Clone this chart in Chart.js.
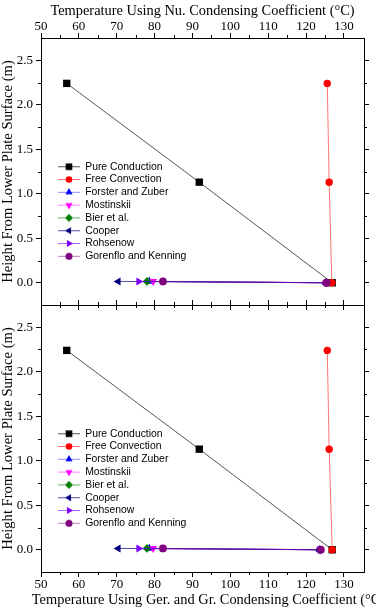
<!DOCTYPE html>
<html>
<head>
<meta charset="utf-8">
<script src="https://cdn.jsdelivr.net/npm/chart.js@4.4.1/dist/chart.umd.min.js"></script>
<style>
  html, body { margin: 0; padding: 0; background: #fff; }
  #wrap { position: relative; width: 376px; height: 612px; overflow: hidden; }
  canvas { position: absolute; left: 0; }
  #topChart { top: 0; }
  #bottomChart { top: 290px; }
</style>
</head>
<body>
<div id="wrap">
  <canvas id="topChart" width="376" height="320"></canvas>
  <canvas id="bottomChart" width="376" height="322"></canvas>
</div>
<script>
// series
const seriesNames = ["Pure Conduction", "Free Convection", "Forster and Zuber", "Mostinskii",
  "Bier et al.", "Cooper", "Rohsenow", "Gorenflo and Kenning"];
const seriesColors = ["#000000", "#ff0000", "#0000ff", "#ff00ff", "#008000", "#000080", "#8000ff", "#800080"];
const lineColors = ["#555555", "rgba(255,0,0,0.55)", "rgba(0,0,255,0.45)", "rgba(255,0,255,0.5)",
  "rgba(0,128,0,0.6)", "rgba(0,0,128,0.7)", "rgba(128,0,255,0.6)", "rgba(128,0,128,0.5)"];
const seriesMarkers = ["rect", "circle", "triangle", "triangle", "rectRot", "triangle", "triangle", "circle"];
const markerRotation = [0, 0, 0, 180, 0, 270, 90, 0];
const markerRadius = [5.2, 3.7, 4.6, 4.6, 4.4, 4.6, 4.6, 3.9];

// heights (m)
const conductionHeights = [2.24, 1.13, 0.0];
const boilingHeights = [0.015, 0.0];

// top panel: Nu. condensing coefficient (°C)
const nuPureConduction = [56.8, 91.8, 126.9];
const nuFreeConvection = [125.6, 126.1, 126.8];
const nuForster = [78.6, 125.2];
const nuMostinskii = [79.6, 125.3];
const nuBier = [78.0, 125.3];
const nuCooper = [70.4, 125.2];
const nuRohsenow = [75.8, 125.3];
const nuGorenflo = [82.2, 125.4];

// bottom panel: Ger. and Gr. condensing coefficient (°C)
const grPureConduction = [56.8, 91.8, 126.9];
const grFreeConvection = [125.6, 126.1, 126.9];
const grForster = [78.6, 123.6];
const grMostinskii = [79.6, 123.7];
const grBier = [78.0, 123.6];
const grCooper = [70.4, 123.5];
const grRohsenow = [75.8, 123.6];
const grGorenflo = [82.2, 123.9];

// axes
const xMin = 50, xMax = 135.3;
const yMin = -0.25, yMax = 2.75;
const xTicks = [50, 60, 70, 80, 90, 100, 110, 120, 130];
const xMinor = [55, 65, 75, 85, 95, 105, 115, 125];
const yTicks = [0, 0.5, 1.0, 1.5, 2.0, 2.5];
const yMinor = [0.25, 0.75, 1.25, 1.75, 2.25];

const topTitle = "Temperature Using Nu. Condensing Coefficient (°C)";
const bottomTitle = "Temperature Using Ger. and Gr. Condensing Coefficient (°C)";
const yTitle = "Height From Lower Plate Surface (m)";

const serif = "'Liberation Serif', 'Times New Roman', serif";
const sans = "'Liberation Sans', Arial, sans-serif";

function toPoints(xs, ys) {
  return xs.map((x, i) => ({ x: x, y: ys[i] }));
}

function makeDatasets(cols) {
  return cols.map((xs, i) => ({
    label: seriesNames[i],
    data: toPoints(xs, i < 2 ? conductionHeights : boilingHeights),
    borderColor: lineColors[i],
    borderWidth: 1,
    backgroundColor: seriesColors[i],
    pointBackgroundColor: seriesColors[i],
    pointBorderColor: seriesColors[i],
    pointBorderWidth: 0,
    pointStyle: seriesMarkers[i],
    pointRotation: markerRotation[i],
    pointRadius: markerRadius[i],
    tension: 0,
    order: seriesNames.length - i
  }));
}

// legend symbols: short line with the marker in the middle
const legendIcons = seriesNames.map((n, i) => {
  const c = document.createElement("canvas");
  c.width = 22; c.height = 11;
  const g = c.getContext("2d");
  g.strokeStyle = lineColors[i];
  g.lineWidth = 1;
  g.beginPath(); g.moveTo(0, 5.5); g.lineTo(22, 5.5); g.stroke();
  g.fillStyle = seriesColors[i];
  g.strokeStyle = seriesColors[i];
  Chart.helpers.drawPoint(g, {
    pointStyle: seriesMarkers[i], rotation: markerRotation[i],
    radius: markerRadius[i] * 0.9, borderWidth: 0
  }, 11, 5.5);
  return c;
});

const minorTicks = {
  id: "minorTicks",
  afterDraw(chart) {
    const { ctx } = chart;
    const { left, right, top, bottom } = chart.chartArea;
    const sx = chart.scales.x, sy = chart.scales.y;
    ctx.save();
    ctx.strokeStyle = "#000";
    ctx.lineWidth = 1;
    ctx.beginPath();
    xMinor.forEach(v => {
      const px = Math.round(sx.getPixelForValue(v)) + 0.5;
      ctx.moveTo(px, top); ctx.lineTo(px, top - 3);
      ctx.moveTo(px, bottom); ctx.lineTo(px, bottom + 3);
    });
    yMinor.forEach(v => {
      const py = Math.round(sy.getPixelForValue(v)) + 0.5;
      ctx.moveTo(left, py); ctx.lineTo(left - 3, py);
      ctx.moveTo(right, py); ctx.lineTo(right + 3, py);
    });
    ctx.stroke();
    ctx.restore();
  }
};

// long bottom axis title: drawn without squeezing, running off the right edge like the original
const wideTitle = {
  id: "wideTitle",
  afterDraw(chart, args, opts) {
    if (!opts.text) return;
    const { ctx } = chart;
    const a = chart.chartArea;
    ctx.save();
    ctx.fillStyle = "#000";
    ctx.font = "14.4px " + serif;
    ctx.textAlign = "center";
    ctx.textBaseline = "middle";
    ctx.fillText(opts.text, (a.left + a.right) / 2 + 6, a.bottom + 28);
    ctx.restore();
  }
};

const legendPlacer = {
  id: "legendPlacer",
  afterLayout(chart) {
    const lg = chart.legend;
    if (!lg) return;
    const a = chart.chartArea;
    const w = lg.width;
    lg.left = a.left + 14.6;
    lg.top = a.top + 121.1;
    lg.right = lg.left + w;
    lg.bottom = a.bottom;
  }
};

function xAxis(position, labelled, title, size) {
  return {
    type: "linear", position: position, min: xMin, max: xMax,
    afterBuildTicks: s => { s.ticks = xTicks.map(v => ({ value: v })); },
    afterFit: s => { s.height = size; },
    grid: { drawOnChartArea: false, tickLength: 5, tickColor: "#000", tickWidth: 1 },
    border: { color: "#000", width: 1 },
    ticks: {
      display: labelled, color: "#000", padding: position === "top" ? -1 : 0,
      maxRotation: 0, autoSkip: false,
      font: { family: serif, size: 13 }
    },
    title: {
      display: !!title, text: title, color: "#000",
      font: { family: serif, size: 14.4, lineHeight: 1 },
      padding: { top: 4.5, bottom: 0 }
    }
  };
}

function yAxis(position, labelled, size) {
  return {
    type: "linear", position: position, min: yMin, max: yMax,
    afterBuildTicks: s => { s.ticks = yTicks.map(v => ({ value: v })); },
    afterFit: s => { s.width = size; },
    grid: { drawOnChartArea: false, tickLength: 5, tickColor: "#000", tickWidth: 1 },
    border: { color: "#000", width: 1 },
    ticks: {
      display: labelled, color: "#000", padding: 3,
      callback: v => Number(v).toFixed(1),
      font: { family: serif, size: 13 }
    },
    title: {
      display: labelled, text: yTitle, color: "#000",
      font: { family: serif, size: 14.6, lineHeight: 1 },
      padding: { top: 0.5, bottom: 0 }
    }
  };
}

function makeChart(id, cols, isTop) {
  return new Chart(document.getElementById(id), {
    type: "line",
    data: { datasets: makeDatasets(cols) },
    options: {
      responsive: false,
      animation: false,
      devicePixelRatio: 1,
      layout: { padding: 0, autoPadding: false },
      plugins: {
        legend: {
          position: "chartArea",
          fullSize: false,
          align: "start",
          labels: {
            usePointStyle: true,
            pointStyleWidth: 22,
            padding: 2.4,
            color: "#000",
            font: { family: sans, size: 10.4 },
            generateLabels: chart => chart.data.datasets.map((ds, i) => ({
              text: ds.label, pointStyle: legendIcons[i], datasetIndex: i,
              hidden: false, lineWidth: 0, fontColor: "#000"
            }))
          }
        },
        tooltip: { enabled: false },
        wideTitle: { text: isTop ? "" : bottomTitle }
      },
      scales: isTop ? {
        x: xAxis("top", true, topTitle, 38),
        x2: xAxis("bottom", false, "", 15),
        y: yAxis("left", true, 41),
        y2: yAxis("right", false, 12)
      } : {
        x: xAxis("bottom", true, "", 40),
        x2: xAxis("top", false, "", 15),
        y: yAxis("left", true, 41),
        y2: yAxis("right", false, 12)
      }
    },
    plugins: [minorTicks, legendPlacer, wideTitle]
  });
}

makeChart("topChart",
  [nuPureConduction, nuFreeConvection, nuForster, nuMostinskii, nuBier, nuCooper, nuRohsenow, nuGorenflo], true);
makeChart("bottomChart",
  [grPureConduction, grFreeConvection, grForster, grMostinskii, grBier, grCooper, grRohsenow, grGorenflo], false);
</script>
</body>
</html>
